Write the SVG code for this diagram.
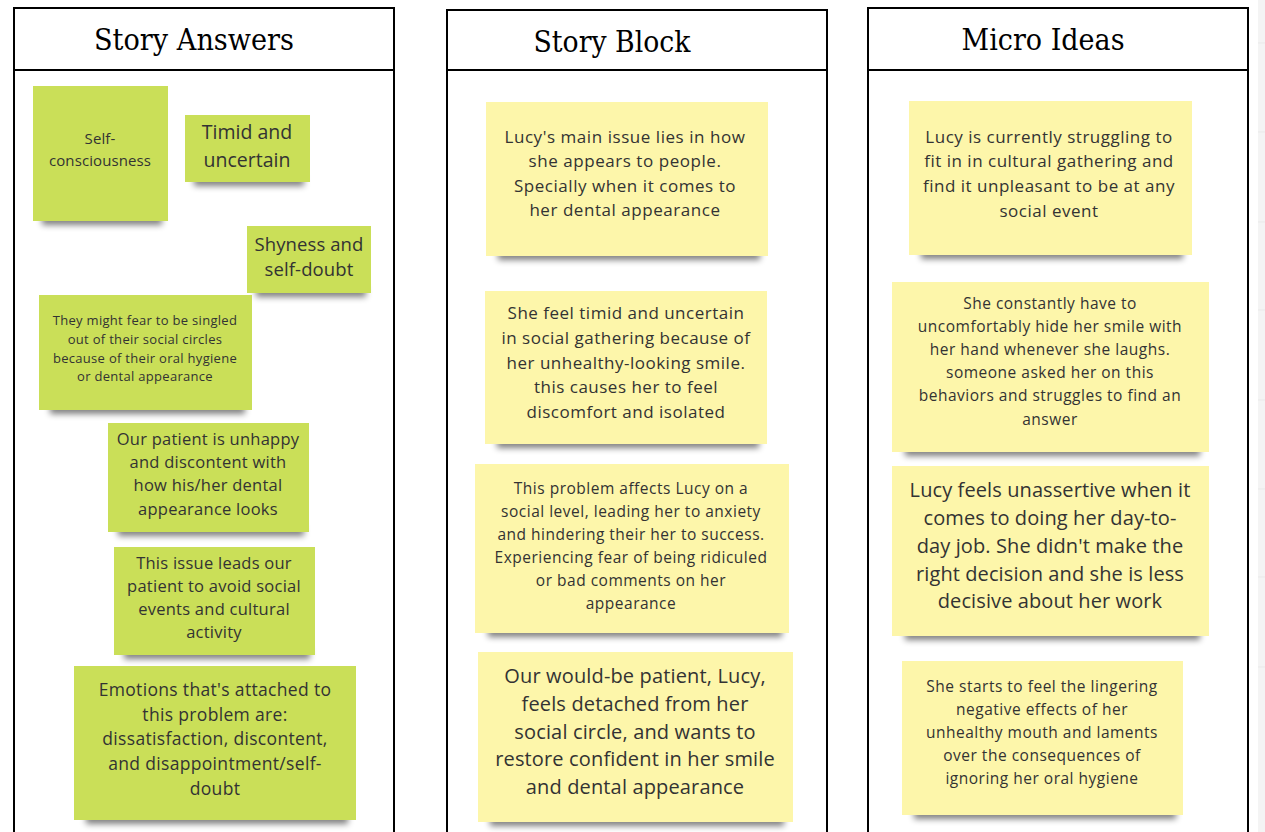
<svg xmlns="http://www.w3.org/2000/svg" width="1265" height="832" viewBox="0 0 1265 832">
  <defs>
    <filter id="sh" x="-20%" y="-200%" width="140%" height="500%">
      <feGaussianBlur stdDeviation="3"/>
    </filter>
    <style>
      .lane { fill: #ffffff; stroke: #000000; stroke-width: 2; }
      .divider { stroke: #000000; stroke-width: 2; }
      .title { font-family: "DejaVu Serif", "Liberation Serif", serif; font-size: 29px; fill: #000000; text-anchor: middle; }
      .shadow { fill: #000000; opacity: 0.5; filter: url(#sh); }
      .green .paper { fill: #cadf58; }
      .yellow .paper { fill: #fdf6aa; }
      .note text { font-family: "Open Sans", "Liberation Sans", sans-serif; fill: #333333; text-anchor: middle; }
      .side { fill: #f4f4f4; }
      .side-line { stroke: #e9e9e9; stroke-width: 1; }
    </style>
  </defs>

  <rect width="1265" height="832" fill="#ffffff"/>

  <!-- side panel strip -->
  <rect class="side" x="1258" y="0" width="7" height="832"/>
  <g class="side-line">
    <line x1="1258" y1="43" x2="1265" y2="43"/>
    <line x1="1258" y1="132" x2="1265" y2="132"/>
    <line x1="1258" y1="222" x2="1265" y2="222"/>
    <line x1="1258" y1="310" x2="1265" y2="310"/>
    <line x1="1258" y1="400" x2="1265" y2="400"/>
    <line x1="1258" y1="489" x2="1265" y2="489"/>
    <line x1="1258" y1="577" x2="1265" y2="577"/>
    <line x1="1258" y1="667" x2="1265" y2="667"/>
  </g>

  <!-- swimlane columns -->
  <g id="lane-answers">
    <rect class="lane" x="14" y="8" width="380" height="840"/>
    <line class="divider" x1="14" y1="70" x2="394" y2="70"/>
    <text class="title" x="194" y="50" textLength="200" lengthAdjust="spacingAndGlyphs">Story Answers</text>
  </g>
  <g id="lane-block">
    <rect class="lane" x="447" y="10" width="380" height="840"/>
    <line class="divider" x1="447" y1="70" x2="827" y2="70"/>
    <text class="title" x="612" y="52" textLength="157" lengthAdjust="spacingAndGlyphs">Story Block</text>
  </g>
  <g id="lane-micro">
    <rect class="lane" x="868" y="8" width="380" height="840"/>
    <line class="divider" x1="868" y1="70" x2="1248" y2="70"/>
    <text class="title" x="1043" y="50" textLength="163" lengthAdjust="spacingAndGlyphs">Micro Ideas</text>
  </g>

  <!-- Story Answers notes -->
  <g id="note-self-consciousness" class="note green">
    <rect class="shadow" x="42" y="215" width="120" height="10"/>
    <rect class="paper" x="33" y="86" width="135" height="135"/>
    <text font-size="15" letter-spacing="0.1"><tspan x="100" y="144">Self-</tspan><tspan x="100" y="166">consciousness</tspan></text>
  </g>
  <g id="note-timid" class="note green">
    <rect class="shadow" x="194" y="176" width="110" height="10"/>
    <rect class="paper" x="185" y="115" width="125" height="67"/>
    <text font-size="19.5"><tspan x="247" y="139">Timid and</tspan><tspan x="247" y="167">uncertain</tspan></text>
  </g>
  <g id="note-shyness" class="note green">
    <rect class="shadow" x="256" y="287" width="110" height="10"/>
    <rect class="paper" x="247" y="226" width="124" height="67"/>
    <text font-size="18.5" letter-spacing="0.1"><tspan x="309" y="251">Shyness and</tspan><tspan x="309" y="276">self-doubt</tspan></text>
  </g>
  <g id="note-singled-out" class="note green">
    <rect class="shadow" x="50" y="404" width="195" height="10"/>
    <rect class="paper" x="39" y="295" width="213" height="115"/>
    <text font-size="13" letter-spacing="0.3"><tspan x="145" y="325">They might fear to be singled</tspan><tspan x="145" y="344">out of their social circles</tspan><tspan x="145" y="363">because of their oral hygiene</tspan><tspan x="145" y="381">or dental appearance</tspan></text>
  </g>
  <g id="note-unhappy" class="note green">
    <rect class="shadow" x="118" y="526" width="186" height="10"/>
    <rect class="paper" x="108" y="423" width="201" height="109"/>
    <text font-size="16.5" letter-spacing="0.25"><tspan x="208" y="445">Our patient is unhappy</tspan><tspan x="208" y="468">and discontent with</tspan><tspan x="208" y="491">how his/her dental</tspan><tspan x="208" y="515">appearance looks</tspan></text>
  </g>
  <g id="note-avoid-events" class="note green">
    <rect class="shadow" x="124" y="649" width="186" height="10"/>
    <rect class="paper" x="114" y="547" width="201" height="108"/>
    <text font-size="16.5" letter-spacing="0.25"><tspan x="214" y="569">This issue leads our</tspan><tspan x="214" y="592">patient to avoid social</tspan><tspan x="214" y="615">events and cultural</tspan><tspan x="214" y="638">activity</tspan></text>
  </g>
  <g id="note-emotions" class="note green">
    <rect class="shadow" x="86" y="814" width="262" height="10"/>
    <rect class="paper" x="74" y="666" width="282" height="154"/>
    <text font-size="17.5" letter-spacing="0.33"><tspan x="215" y="696">Emotions that's attached to</tspan><tspan x="215" y="721">this problem are:</tspan><tspan x="215" y="745">dissatisfaction, discontent,</tspan><tspan x="215" y="770">and disappointment/self-</tspan><tspan x="215" y="795">doubt</tspan></text>
  </g>

  <!-- Story Block notes -->
  <g id="note-main-issue" class="note yellow">
    <rect class="shadow" x="498" y="250" width="262" height="10"/>
    <rect class="paper" x="486" y="102" width="282" height="154"/>
    <text font-size="17" letter-spacing="0.55"><tspan x="625" y="143">Lucy's main issue lies in how</tspan><tspan x="625" y="167">she appears to people.</tspan><tspan x="625" y="192">Specially when it comes to</tspan><tspan x="625" y="216">her dental appearance</tspan></text>
  </g>
  <g id="note-timid-social" class="note yellow">
    <rect class="shadow" x="497" y="438" width="262" height="10"/>
    <rect class="paper" x="485" y="291" width="282" height="153"/>
    <text font-size="17" letter-spacing="0.5"><tspan x="626" y="319">She feel timid and uncertain</tspan><tspan x="626" y="344">in social gathering because of</tspan><tspan x="626" y="369">her unhealthy-looking smile.</tspan><tspan x="626" y="393">this causes her to feel</tspan><tspan x="626" y="418">discomfort and isolated</tspan></text>
  </g>
  <g id="note-anxiety" class="note yellow">
    <rect class="shadow" x="488" y="627" width="294" height="10"/>
    <rect class="paper" x="475" y="464" width="314" height="169"/>
    <text font-size="15.5" letter-spacing="0.5"><tspan x="631" y="494">This problem affects Lucy on a</tspan><tspan x="631" y="517">social level, leading her to anxiety</tspan><tspan x="631" y="540">and hindering their her to success.</tspan><tspan x="631" y="563">Experiencing fear of being ridiculed</tspan><tspan x="631" y="586">or bad comments on her</tspan><tspan x="631" y="609">appearance</tspan></text>
  </g>
  <g id="note-detached" class="note yellow">
    <rect class="shadow" x="490" y="816" width="294" height="10"/>
    <rect class="paper" x="478" y="652" width="315" height="170"/>
    <text font-size="20" letter-spacing="0.15"><tspan x="635" y="683">Our would-be patient, Lucy,</tspan><tspan x="635" y="711">feels detached from her</tspan><tspan x="635" y="739">social circle, and wants to</tspan><tspan x="635" y="766">restore confident in her smile</tspan><tspan x="635" y="794">and dental appearance</tspan></text>
  </g>

  <!-- Micro Ideas notes -->
  <g id="note-struggling" class="note yellow">
    <rect class="shadow" x="921" y="249" width="262" height="10"/>
    <rect class="paper" x="909" y="101" width="283" height="154"/>
    <text font-size="17" letter-spacing="0.5"><tspan x="1049" y="143">Lucy is currently struggling to</tspan><tspan x="1049" y="167">fit in in cultural gathering and</tspan><tspan x="1049" y="192">find it unpleasant to be at any</tspan><tspan x="1049" y="217">social event</tspan></text>
  </g>
  <g id="note-hide-smile" class="note yellow">
    <rect class="shadow" x="905" y="446" width="295" height="10"/>
    <rect class="paper" x="892" y="282" width="317" height="170"/>
    <text font-size="15.5" letter-spacing="0.5"><tspan x="1050" y="309">She constantly have to</tspan><tspan x="1050" y="332">uncomfortably hide her smile with</tspan><tspan x="1050" y="355">her hand whenever she laughs.</tspan><tspan x="1050" y="378">someone asked her on this</tspan><tspan x="1050" y="401">behaviors and struggles to find an</tspan><tspan x="1050" y="425">answer</tspan></text>
  </g>
  <g id="note-unassertive" class="note yellow">
    <rect class="shadow" x="905" y="630" width="295" height="10"/>
    <rect class="paper" x="892" y="466" width="317" height="170"/>
    <text font-size="20" letter-spacing="0.1"><tspan x="1050" y="497">Lucy feels unassertive when it</tspan><tspan x="1050" y="525">comes to doing her day-to-</tspan><tspan x="1050" y="553">day job. She didn't make the</tspan><tspan x="1050" y="581">right decision and she is less</tspan><tspan x="1050" y="608">decisive about her work</tspan></text>
  </g>
  <g id="note-lingering" class="note yellow">
    <rect class="shadow" x="914" y="809" width="262" height="10"/>
    <rect class="paper" x="902" y="661" width="281" height="154"/>
    <text font-size="15.5" letter-spacing="0.5"><tspan x="1042" y="692">She starts to feel the lingering</tspan><tspan x="1042" y="715">negative effects of her</tspan><tspan x="1042" y="738">unhealthy mouth and laments</tspan><tspan x="1042" y="761">over the consequences of</tspan><tspan x="1042" y="784">ignoring her oral hygiene</tspan></text>
  </g>
</svg>
